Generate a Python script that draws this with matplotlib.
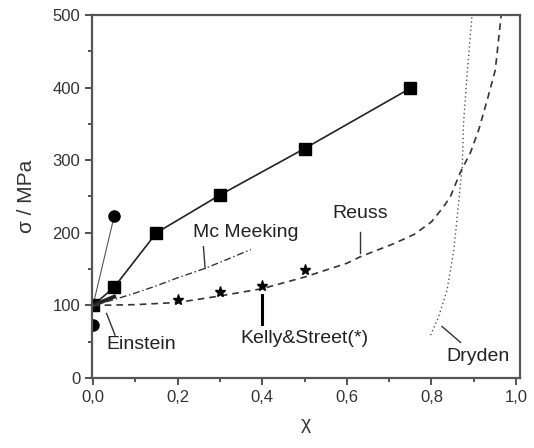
import matplotlib
matplotlib.use("Agg")
import matplotlib.pyplot as plt
from matplotlib.ticker import MultipleLocator, FuncFormatter

plt.rcParams['font.family'] = ['Liberation Sans', 'DejaVu Sans']

# experimental points (squares, joined)
exp_x = [0.0, 0.05, 0.15, 0.30, 0.50, 0.75]
exp_y = [100, 125, 200, 252, 316, 399]

# circles
circ_x = [0.0, 0.05]
circ_y = [73, 223]

# Kelly&Street stars
ks_x = [0.2, 0.3, 0.4, 0.5]
ks_y = [108, 118, 127, 149]

# model curves
einst_x = [0.0, 0.05]
einst_y = [100, 112]

mcm_x = [0.0, 0.05, 0.10, 0.15, 0.20, 0.265, 0.32, 0.373]
mcm_y = [100, 108, 117, 127, 138, 151, 164, 177]

reuss_x = [0.0, 0.1, 0.2, 0.3, 0.4, 0.5, 0.6, 0.632, 0.711, 0.76, 0.80, 0.829, 0.845,
           0.869, 0.892, 0.912, 0.932, 0.951, 0.965]
reuss_y = [100, 101, 104, 113, 123, 139, 158, 167, 185, 198, 215, 236, 250,
           284, 310, 342, 383, 424, 500]

dry_x = [0.798, 0.817, 0.837, 0.853, 0.861, 0.873, 0.876, 0.884, 0.896]
dry_y = [59, 84, 121, 176, 222, 291, 351, 415, 500]

fig = plt.figure(figsize=(5.34, 4.48), dpi=100)
ax = fig.add_axes([0.1723, 0.1563, 0.8015, 0.8102])

lc = '#222222'
ax.plot(circ_x[1:] + [0.0], [circ_y[1], 100], '-', color='#555555', lw=0.8)
ax.plot(exp_x, exp_y, '-', color=lc, lw=1.2)
ax.plot(exp_x, exp_y, 's', color='black', ms=8)
ax.plot(circ_x, circ_y, 'o', color='black', ms=8)
ax.plot(einst_x, einst_y, '-', color=lc, lw=2.8)
ax.plot(mcm_x, mcm_y, color='#333333', lw=1.0, dashes=[5, 2, 1, 2])
ax.plot(reuss_x, reuss_y, color='#333333', lw=1.2, dashes=[4, 3])
ax.plot(ks_x, ks_y, '*', color='black', ms=8)
ax.plot(dry_x, dry_y, color='#555555', lw=1.0, dashes=[1, 2])

# labels with leader lines
fs = 14
ax.plot([0.032, 0.052], [89, 59], '-', color='#333333', lw=1.0)
ax.text(0.114, 46, 'Einstein', fontsize=fs, ha='center', va='center', color='#222222')
ax.plot([0.261, 0.265], [181, 151], '-', color='#333333', lw=1.0)
ax.text(0.362, 201, 'Mc Meeking', fontsize=fs, ha='center', va='center', color='#222222')
ax.plot([0.632, 0.632], [201, 172], '-', color='#333333', lw=1.0)
ax.text(0.632, 227, 'Reuss', fontsize=fs, ha='center', va='center', color='#222222')
ax.plot([0.4, 0.4], [114, 74], '-', color='black', lw=2.2)
ax.text(0.50, 54, 'Kelly&Street(*)', fontsize=fs, ha='center', va='center', color='#222222')
ax.plot([0.825, 0.869], [71, 49], '-', color='#333333', lw=1.0)
ax.text(0.91, 30, 'Dryden', fontsize=fs, ha='center', va='center', color='#222222')

ax.set_xlim(-0.0024, 1.0095)
ax.set_ylim(0, 500)
ax.xaxis.set_major_locator(MultipleLocator(0.2))
ax.xaxis.set_minor_locator(MultipleLocator(0.1))
ax.yaxis.set_major_locator(MultipleLocator(100))
ax.yaxis.set_minor_locator(MultipleLocator(50))
ax.xaxis.set_major_formatter(FuncFormatter(lambda v, p: f'{v:.1f}'.replace('.', ',')))
ax.tick_params(which='both', direction='out', colors='#444444', labelcolor='#333333',
               labelsize=12, width=1.3)
ax.tick_params(which='major', length=5)
ax.tick_params(which='minor', length=3)
for s in ax.spines.values():
    s.set_color('#555555')
    s.set_linewidth(1.6)

ax.set_xlabel('χ', fontsize=14, color='#333333', labelpad=8)
ax.set_ylabel('σ / MPa', fontsize=15, color='#333333', labelpad=12)

fig.savefig('out.png', dpi=100)
